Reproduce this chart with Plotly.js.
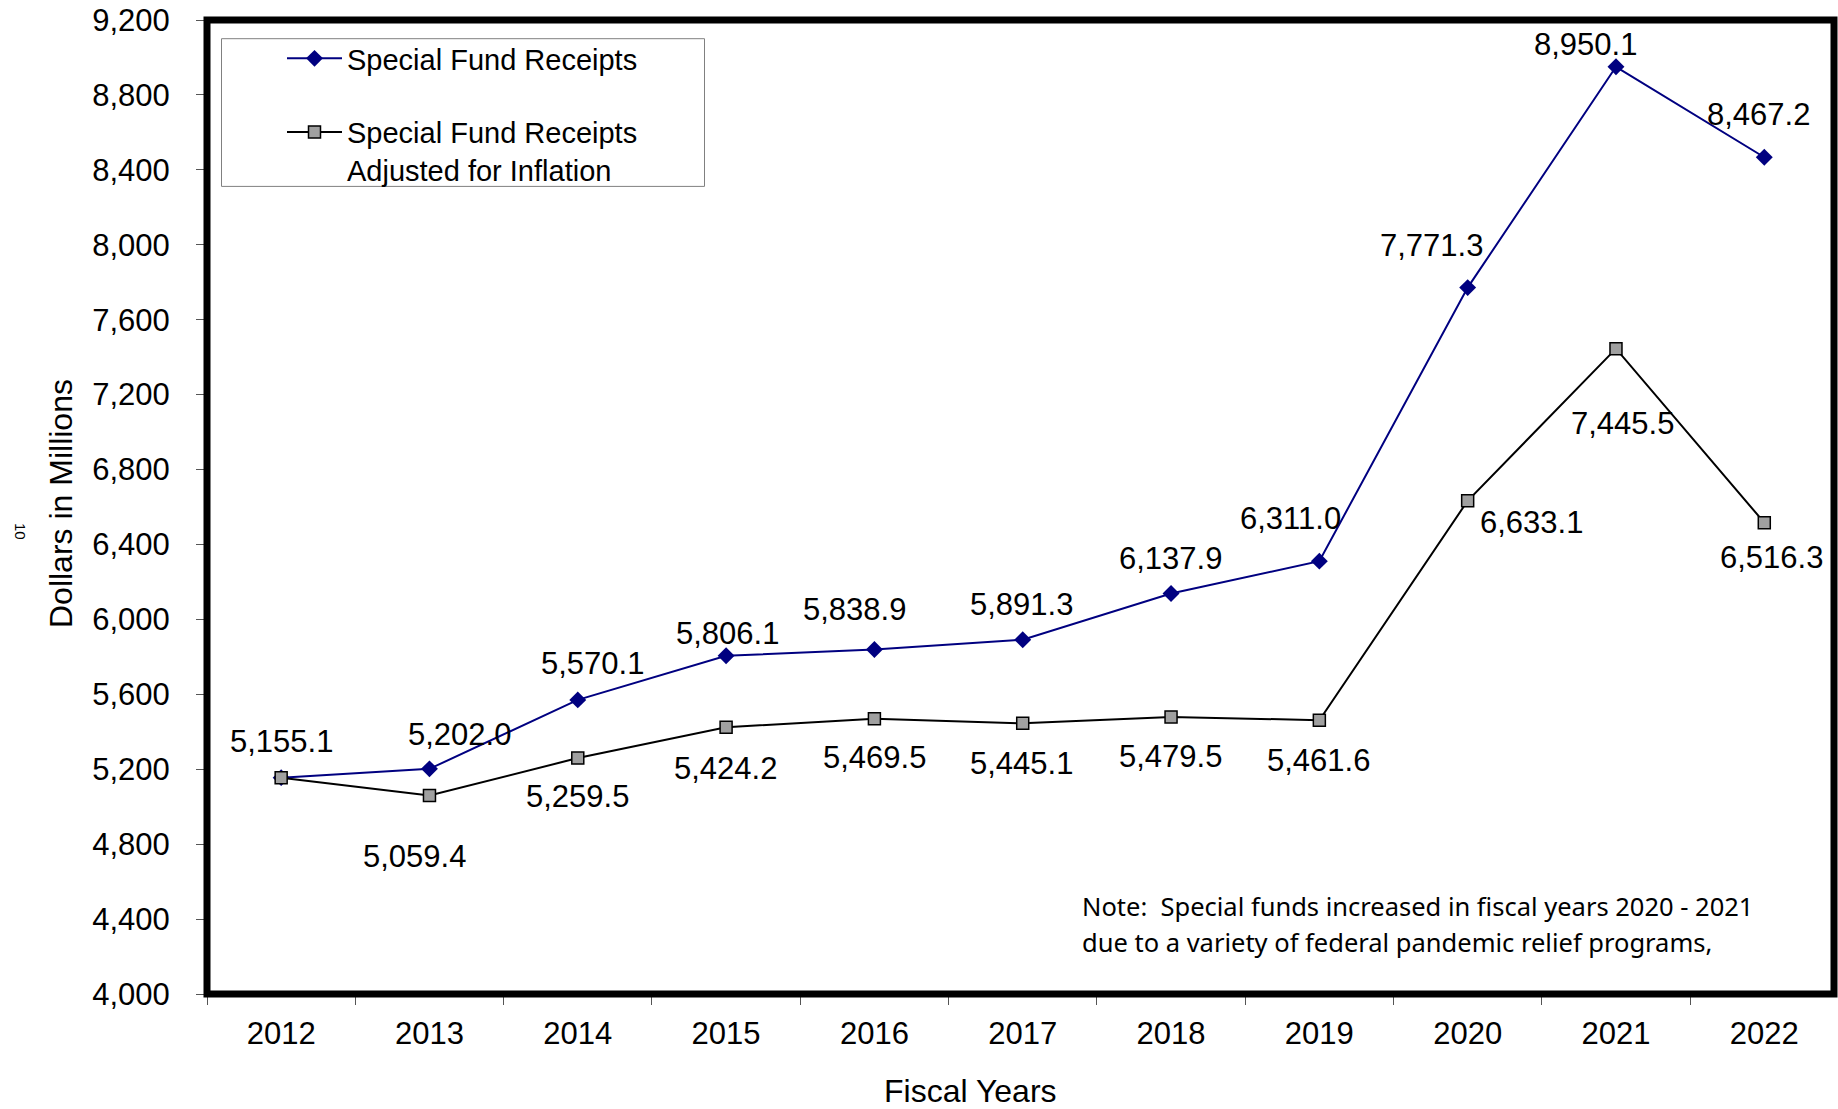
<!DOCTYPE html>
<html><head><meta charset="utf-8">
<script src="https://cdn.plot.ly/plotly-3.0.1.min.js"></script>
<style>html,body{margin:0;padding:0;background:#fff;} #chart{width:1838px;height:1109px;}</style>
</head><body><div id="chart"></div>
<script>
// ---- data ----
const years = [2012,2013,2014,2015,2016,2017,2018,2019,2020,2021,2022];
const receipts = [5155.1,5202.0,5570.1,5806.1,5838.9,5891.3,6137.9,6311.0,7771.3,8950.1,8467.2];
const adjusted = [5155.1,5059.4,5259.5,5424.2,5469.5,5445.1,5479.5,5461.6,6633.1,7445.5,6516.3];
const yTicks = [4000,4400,4800,5200,5600,6000,6400,6800,7200,7600,8000,8400,8800,9200];
const seriesNames = ['Special Fund Receipts','Special Fund Receipts<br>Adjusted for Inflation'];
const xTitle = 'Fiscal Years';
const yTitle = 'Dollars in Millions';
const noteLines = ['Note:  Special funds increased in fiscal years 2020 - 2021','due to a variety of federal pandemic relief programs,'];
const pageMark = '10';

// ---- label placement (pixel offsets, style only) ----
const recDx = [0,30,15,1,-20,-1,-1,-29,-36,-30,-6];
const recDy = [36,34,36,22,40,35,35,43,42,22,43];
const adjDx = [null,-15,0,-1,0,-1,-1,-1,64,7,7];
const adjDy = [null,-61,-38,-41,-39,-40,-40,-40,-22,-75,-35];

const FONT = 'Liberation Sans, Arial, sans-serif';
const fmt = v => v.toLocaleString('en-US',{minimumFractionDigits:1,maximumFractionDigits:1});
const boundaries = years.map(y => y - 0.5).concat([years[years.length-1] + 0.5]);

const traces = [
  {x: years, y: receipts, name: seriesNames[0], type:'scatter', mode:'lines+markers',
   legendgroup:'a',
   line:{color:'#000080', width:2}, marker:{symbol:'diamond', size:13, color:'#000080'}},
  {x: years, y: adjusted, name: seriesNames[1], type:'scatter', mode:'lines+markers',
   legendgroup:'b',
   line:{color:'#000000', width:2}, marker:{symbol:'square', size:12, color:'#a0a0a0', line:{color:'#000', width:1.5}}}
];

const annotations = [];
receipts.forEach((v,i)=>{
  annotations.push({x: years[i], y: v, xref:'x', yref:'y', text: fmt(v), showarrow:false,
    xshift: recDx[i], yshift: recDy[i], font:{family:FONT, size:31, color:'#000'}});
});
adjusted.forEach((v,i)=>{
  if (adjDx[i] === null) return;
  annotations.push({x: years[i], y: v, xref:'x', yref:'y', text: fmt(v), showarrow:false,
    xshift: adjDx[i], yshift: adjDy[i], font:{family:FONT, size:31, color:'#000'}});
});
// axis titles
annotations.push({xref:'paper', yref:'paper', x:(970-207)/1627, y:-(1091-994)/974, text:xTitle, showarrow:false,
  font:{family:FONT, size:32, color:'#000'}, xanchor:'center', yanchor:'middle'});
annotations.push({xref:'paper', yref:'paper', x:-(207-61)/1627, y:1-(504-20)/974, text:yTitle, showarrow:false,
  textangle:-90, font:{family:FONT, size:32, color:'#000'}, xanchor:'center', yanchor:'middle'});
annotations.push({xref:'paper', yref:'paper', x:-(207-21)/1627, y:1-(531-20)/974, text:pageMark, showarrow:false,
  textangle:90, font:{family:FONT, size:15, color:'#000'}, xanchor:'center', yanchor:'middle'});
// note
noteLines.forEach((t,k)=>{
  annotations.push({xref:'paper', yref:'paper', x:(1080-207)/1627, y:1-([906,942][k]-20)/974, text:t, showarrow:false,
    xanchor:'left', yanchor:'middle', font:{family:'Noto Sans, Open Sans, sans-serif', size:25.5, color:'#000'}});
});

const layout = {
  width:1838, height:1109,
  margin:{l:207, r:4, t:20, b:115, autoexpand:false},
  paper_bgcolor:'#fff', plot_bgcolor:'#fff',
  showlegend:true,
  legend:{x:(282-207)/1627, y:1-(33-20)/974, xanchor:'left', yanchor:'top', bgcolor:'rgba(0,0,0,0)',
    borderwidth:0, font:{family:FONT, size:29, color:'#000'}, traceorder:'grouped', tracegroupgap:33,
    valign:'top', itemwidth:55},
  xaxis:{type:'linear', range:[years[0]-0.5, years[years.length-1]+0.47], tickmode:'array',
    tickvals: years, ticktext: years.map(String), ticks:'', ticklabelstandoff:18,
    minor:{tickmode:'array', tickvals: boundaries, ticks:'outside', ticklen:10, tickwidth:1, tickcolor:'#555', showgrid:false},
    showgrid:false, zeroline:false, showline:false,
    tickfont:{family:FONT, size:31, color:'#000'}, fixedrange:true},
  yaxis:{range:[4000,9200], tickmode:'array', tickvals:yTicks, ticktext:yTicks.map(v=>v.toLocaleString('en-US')), ticks:'outside',
    ticklen:10, tickwidth:1, tickcolor:'#555', showgrid:false, zeroline:false, showline:false, ticklabelstandoff:20,
    tickfont:{family:FONT, size:31, color:'#000'}, fixedrange:true},
  shapes:[
    {type:'rect', xref:'paper', yref:'paper', x0:(221.5-207)/1627, x1:(704.5-207)/1627,
     y0:1-(186.4-20)/974, y1:1-(38.7-20)/974, line:{color:'#808080', width:1}, fillcolor:'#fff', layer:'below'},
    {type:'rect', xref:'paper', yref:'paper', x0:0, x1:1, y0:0, y1:1, line:{color:'#000', width:7}, layer:'above'}
  ],
  annotations: annotations
};

Plotly.newPlot('chart', traces, layout, {displayModeBar:false, staticPlot:true});
</script>
</body></html>
